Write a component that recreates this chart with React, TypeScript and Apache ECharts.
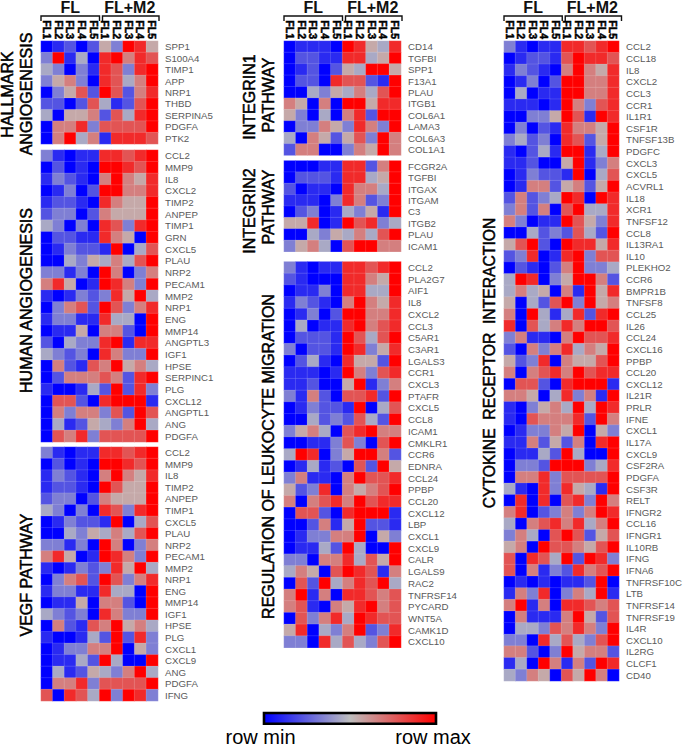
import React, { useEffect, useRef } from "react";
import * as echarts from "echarts";

const samples = ["FL1", "FL2", "FL3", "FL4", "FL5", "FL1", "FL2", "FL3", "FL4", "FL5"];

const hallmarkGenes = ["SPP1", "S100A4", "TIMP1", "APP", "NRP1", "THBD", "SERPINA5", "PDGFA", "PTK2"];
const hallmarkValues = [
  [0,1,2,0,2,5,3,9,8,5],[3,9,1,4,0,8,9,6,8,7],[4,3,0,3,1,8,7,3,8,9],[3,5,6,3,0,8,7,4,6,9],
  [0,3,5,7,2,9,7,2,6,8],[2,2,0,2,7,4,1,2,7,9],[4,0,5,5,6,2,7,4,8,9],[0,6,6,8,3,7,7,7,7,9],[0,6,9,4,6,1,8,8,8,7],
];

const humanGenes = ["CCL2","MMP9","IL8","CXCL2","TIMP2","ANPEP","TIMP1","GRN","CXCL5","PLAU","NRP2","PECAM1","MMP2","NRP1","ENG","MMP14","ANGPTL3","IGF1","HPSE","SERPINC1","PLG","CXCL12","ANGPTL1","ANG","PDGFA"];
const humanValues = [
  [3,1,0,1,1,8,8,7,8,9],[0,2,0,1,0,9,9,8,7,9],[1,3,2,1,0,6,9,6,5,8],[0,1,3,0,2,9,9,6,6,8],[1,2,2,1,0,8,6,5,5,9],
  [2,3,3,0,2,6,5,5,5,9],[4,3,0,3,0,8,7,3,8,9],[0,2,2,1,1,8,6,5,0,9],[0,1,3,2,2,1,9,0,4,7],[0,0,4,3,5,4,6,4,7,9],
  [3,3,1,3,0,9,6,0,3,6],[6,8,5,0,1,9,8,6,3,9],[1,0,1,3,2,3,8,5,9,4],[0,3,6,7,2,9,7,3,6,8],[1,3,3,1,1,8,4,4,0,9],
  [0,1,1,5,0,6,6,2,0,9],[2,0,4,3,3,8,9,1,8,8],[4,3,2,3,0,8,6,3,3,9],[0,6,2,1,7,6,9,5,6,4],[0,2,6,6,6,7,6,2,8,9],
  [1,0,0,1,4,2,9,2,8,3],[0,7,7,2,0,8,9,9,9,1],[0,6,3,6,6,3,7,2,9,7],[0,4,1,2,5,4,3,6,9,4],[0,7,6,8,3,7,7,7,7,9],
];

const vegfGenes = ["CCL2","MMP9","IL8","TIMP2","ANPEP","TIMP1","CXCL5","PLAU","NRP2","PECAM1","MMP2","NRP1","ENG","MMP14","IGF1","HPSE","PLG","CXCL1","CXCL9","ANG","PDGFA","IFNG"];
const vegfValues = [
  [3,1,0,1,1,8,8,7,8,9],[0,2,0,1,0,9,9,8,7,9],[1,3,2,1,0,6,9,6,5,8],[1,2,2,1,0,9,7,5,5,9],[2,3,3,0,2,6,5,5,5,9],
  [4,3,0,3,0,8,7,3,8,9],[0,1,3,2,2,1,9,0,4,7],[0,0,4,3,5,4,6,4,7,9],[3,3,1,3,0,9,6,0,3,6],[6,8,5,0,1,9,8,6,3,9],
  [1,0,1,3,2,3,8,5,9,4],[0,3,6,7,2,9,7,3,6,8],[1,3,3,1,1,8,4,4,0,9],[0,1,1,5,0,6,6,2,0,9],[4,3,2,3,0,8,6,3,3,9],
  [0,6,2,1,7,6,9,5,6,4],[1,0,0,1,4,2,9,2,8,3],[0,1,3,3,6,6,9,0,5,3],[0,1,1,4,2,9,4,0,0,9],[0,4,1,2,5,4,3,6,9,4],
  [0,6,6,8,3,7,7,7,7,9],[7,0,8,7,4,9,3,9,8,3],
];

const integrin1Genes = ["CD14","TGFBI","SPP1","F13A1","PLAU","ITGB1","COL6A1","LAMA3","COL6A3","COL1A1"];
const integrin1Values = [
  [0,1,1,1,0,9,8,5,4,8],[0,2,2,1,1,8,8,4,5,9],[0,1,2,0,2,5,4,9,9,5],[0,2,2,0,8,7,7,2,1,9],[0,0,4,3,5,4,6,4,7,9],
  [6,5,0,6,0,9,9,5,8,8],[5,3,0,4,0,6,8,2,9,9],[0,3,3,6,5,3,8,6,3,9],[4,0,6,5,2,5,7,3,9,6],[2,6,6,0,0,3,6,5,9,6],
];

const integrin2Genes = ["FCGR2A","TGFBI","ITGAX","ITGAM","C3","ITGB2","PLAU","ICAM1"];
const integrin2Values = [
  [0,0,0,1,1,8,8,2,6,9],[0,2,2,2,1,8,8,4,5,9],[2,0,1,1,0,8,6,6,4,9],[1,1,1,0,3,8,6,2,3,9],
  [0,2,3,0,1,4,3,5,1,9],[5,5,8,0,1,9,7,8,3,4],[0,0,4,3,5,4,6,4,7,9],[3,5,6,4,0,7,9,9,6,6],
];

const migrationGenes = ["CCL2","PLA2G7","AIF1","IL8","CXCL2","CCL3","C5AR1","C3AR1","LGALS3","CCR1","CXCL3","PTAFR","CXCL5","CCL8","ICAM1","CMKLR1","CCR6","EDNRA","CCL24","PPBP","CCL20","CXCL12","LBP","CXCL1","CXCL9","CALR","LGALS9","RAC2","TNFRSF14","PYCARD","WNT5A","CAMK1D","CXCL10"];
const migrationValues = [
  [3,1,0,1,1,8,8,7,8,9],[2,1,0,0,0,8,8,6,5,9],[0,1,1,3,0,8,8,4,4,9],[1,3,2,1,0,6,9,6,5,8],[0,1,3,0,2,9,9,6,6,8],
  [0,4,0,1,1,8,9,6,7,8],[0,2,2,2,1,9,7,4,7,9],[3,0,2,2,1,9,8,3,5,8],[0,2,4,1,0,8,5,5,2,9],[1,1,1,0,1,9,6,3,7,8],
  [1,1,2,0,0,5,9,1,3,6],[3,1,6,2,0,7,7,8,2,9],[0,1,3,2,2,1,9,0,4,7],[0,0,4,2,3,2,7,4,2,9],[3,5,6,4,0,7,8,9,6,6],
  [0,0,1,1,3,7,3,0,7,9],[4,9,8,0,3,5,9,9,6,2],[0,1,4,1,2,0,7,2,9,5],[3,6,1,1,0,6,9,7,7,8],[5,2,3,8,0,6,5,6,7,9],
  [6,0,6,7,8,6,9,7,8,8],[0,7,7,2,0,8,9,9,9,1],[0,0,2,6,1,5,9,2,2,1],[0,1,3,3,6,6,9,0,5,3],[0,1,1,4,2,9,4,0,0,9],
  [3,3,0,6,6,8,4,7,5,9],[4,6,5,0,7,9,8,7,1,6],[0,7,2,9,4,6,8,7,9,4],[6,9,1,6,0,8,8,7,6,7],[6,7,1,0,6,5,8,9,6,7],
  [0,7,3,6,8,4,9,8,7,7],[5,8,0,4,3,6,9,2,3,8],[3,3,0,8,4,7,4,3,7,9],
];

const cytokineGenes = ["CCL2","CCL18","IL8","CXCL2","CCL3","CCR1","IL1R1","CSF1R","TNFSF13B","PDGFC","CXCL3","CXCL5","ACVRL1","IL18","XCR1","TNFSF12","CCL8","IL13RA1","IL10","PLEKHO2","CCR6","BMPR1B","TNFSF8","CCL25","IL26","CCL24","CXCL16","PPBP","CCL20","CXCL12","IL21R","PRLR","IFNE","CXCL1","IL17A","CXCL9","CSF2RA","PDGFA","CSF3R","RELT","IFNGR2","CCL16","IFNGR1","IL10RB","IFNG","IFNA6","TNFRSF10C","LTB","TNFRSF14","TNFRSF19","IL4R","CXCL10","IL2RG","CLCF1","CD40"];
const cytokineValues = [
  [3,1,0,1,1,8,8,7,8,9],[0,1,2,2,1,7,9,8,8,7],[1,3,2,1,0,6,9,6,5,8],[0,1,3,0,2,9,9,6,6,8],[0,4,0,1,1,9,9,6,6,8],
  [1,1,1,0,1,9,6,3,7,8],[0,0,3,3,5,9,7,1,9,8],[0,3,0,2,1,8,6,6,5,9],[3,4,2,3,0,8,7,2,5,9],[1,0,2,4,1,9,9,1,4,9],
  [1,1,2,0,0,5,9,1,3,6],[0,1,3,2,2,1,9,0,4,7],[0,1,6,6,2,5,6,2,5,9],[2,6,2,3,4,9,8,0,9,8],[3,6,2,6,0,7,9,4,4,8],
  [6,3,0,1,1,9,7,5,3,8],[0,0,4,2,3,2,7,4,2,9],[5,7,9,2,0,9,8,8,5,8],[2,3,8,0,1,8,9,3,7,7],[0,2,1,0,2,6,9,3,3,4],
  [4,9,8,0,3,5,9,9,6,2],[4,6,4,5,0,6,1,9,5,8],[5,0,4,2,7,9,3,9,5,6],[6,0,9,4,1,4,8,2,8,9],[8,0,7,4,6,8,6,9,9,7],
  [3,6,1,1,0,6,9,7,7,8],[2,0,6,3,6,8,4,6,5,9],[5,2,3,8,0,6,5,5,7,9],[6,0,6,7,8,6,9,7,8,8],[0,7,7,2,0,8,9,9,9,1],
  [6,6,5,0,4,8,3,6,1,9],[1,0,3,5,6,4,9,4,9,8],[1,0,7,6,6,6,8,2,9,6],[0,1,3,3,6,5,9,0,5,3],[1,1,6,2,5,2,6,0,8,9],
  [0,1,1,4,2,9,4,0,0,9],[0,3,3,2,9,9,9,3,4,8],[0,6,6,8,3,7,7,7,7,9],[4,1,0,8,3,8,5,4,1,9],[0,8,0,8,0,7,8,3,9,6],
  [6,8,0,2,3,6,3,6,9,8],[4,0,6,7,8,6,8,4,6,9],[3,6,4,0,7,9,7,2,5,7],[5,6,0,9,7,7,6,5,7,9],[7,0,8,7,4,9,2,9,8,3],
  [7,0,6,1,3,2,8,6,7,9],[0,1,0,1,0,1,1,2,9,0],[1,6,3,8,0,3,6,4,9,1],[6,9,1,6,0,8,8,7,6,7],[0,6,1,1,1,6,9,5,2,7],
  [0,4,4,3,7,6,8,6,3,9],[3,3,0,8,4,7,4,3,7,9],[6,6,2,0,3,9,5,6,6,2],[1,4,0,9,6,1,6,2,9,8],[4,3,6,5,0,7,5,9,6,0],
];

const FONT = "'Liberation Sans', Arial, sans-serif";
const ROW_COLORS = ["#0000ff", "#bebebe", "#ff0000"];

const panels = [
  { genes: hallmarkGenes, values: hallmarkValues, x0: 41, x1: 158, y0: 41, y1: 144, header: true },
  { genes: humanGenes, values: humanValues, x0: 41, x1: 158, y0: 150, y1: 442, header: false },
  { genes: vegfGenes, values: vegfValues, x0: 41, x1: 158, y0: 447, y1: 701, header: false },
  { genes: integrin1Genes, values: integrin1Values, x0: 284, x1: 401, y0: 41, y1: 155.3, header: true },
  { genes: integrin2Genes, values: integrin2Values, x0: 284, x1: 401, y0: 160.7, y1: 251.7, header: false },
  { genes: migrationGenes, values: migrationValues, x0: 284, x1: 401, y0: 261.7, y1: 647.7, header: false },
  { genes: cytokineGenes, values: cytokineValues, x0: 504, x1: 620.5, y0: 41, y1: 681, header: true },
];

const sideTitles = [
  { text: "HALLMARK", x: 7.5, y: 94.5, size: 16 },
  { text: "ANGIOGENESIS", x: 26.5, y: 94, size: 16 },
  { text: "HUMAN ANGIOGENESIS", x: 26.5, y: 300.5, size: 16 },
  { text: "VEGF PATHWAY", x: 26.5, y: 575, size: 16 },
  { text: "INTEGRIN1", x: 249.5, y: 97, size: 16 },
  { text: "PATHWAY", x: 268.5, y: 95, size: 16 },
  { text: "INTEGRIN2", x: 249.5, y: 211, size: 16 },
  { text: "PATHWAY", x: 268.5, y: 207, size: 16 },
  { text: "REGULATION OF LEUKOCYTE MIGRATION", x: 268, y: 456.5, size: 16 },
  { text: "CYTOKINE  RECEPTOR  INTERACTION", x: 489, y: 363, size: 15.7 },
];

function bracket(x0: number, x1: number) {
  return {
    type: "polyline",
    shape: { points: [[x0, 21], [x0, 16], [x1, 16], [x1, 21]] },
    style: { stroke: "#111", lineWidth: 1.4, fill: "none" },
  };
}

function buildOption() {
  const grid: any[] = [], xAxis: any[] = [], yAxis: any[] = [], series: any[] = [];
  const graphic: any[] = [];
  panels.forEach((p, i) => {
    grid.push({ left: p.x0, top: p.y0, width: p.x1 - p.x0, height: p.y1 - p.y0 });
    xAxis.push({
      type: "category", gridIndex: i, data: samples, position: "top",
      axisLine: { show: false }, axisTick: { show: false }, splitLine: { show: false },
      axisLabel: p.header
        ? { show: true, rotate: 90, interval: 0, margin: 2, fontFamily: FONT, fontSize: 10.5, fontWeight: "bold", color: "#000", textBorderColor: "#000", textBorderWidth: 0.5 }
        : { show: false },
    });
    yAxis.push({
      type: "category", gridIndex: i, data: p.genes, inverse: true, position: "right",
      axisLine: { show: false }, axisTick: { show: false }, splitLine: { show: false },
      axisLabel: { show: true, interval: 0, margin: 7, fontFamily: FONT, fontSize: 9.7, color: "#5a5a5a" },
    });
    const data: number[][] = [];
    p.values.forEach((row, r) => row.forEach((v, c) => data.push([c, r, v])));
    series.push({
      type: "heatmap", xAxisIndex: i, yAxisIndex: i, data, silent: true,
      itemStyle: { borderColor: "rgba(255,255,255,0.22)", borderWidth: 0.6 },
    });
    if (p.header) {
      const mid = (p.x0 + p.x1) / 2;
      graphic.push(bracket(p.x0, mid));
      graphic.push(bracket(mid + 3, p.x1 + 1));
      graphic.push({ type: "text", x: (p.x0 + mid) / 2, y: 7, style: { text: "FL", align: "center", verticalAlign: "middle", font: `bold 16px ${FONT}`, fill: "#111" } });
      graphic.push({ type: "text", x: (mid + p.x1) / 2 + 1, y: 7, style: { text: "FL+M2", align: "center", verticalAlign: "middle", font: `bold 16px ${FONT}`, fill: "#111" } });
    }
  });
  sideTitles.forEach((t) => {
    graphic.push({
      type: "text", x: t.x, y: t.y, rotation: Math.PI / 2,
      style: { text: t.text, align: "center", verticalAlign: "middle", font: `${t.size}px ${FONT}`, fill: "#000", stroke: "#000", lineWidth: 0.5 },
    });
  });
  graphic.push({
    type: "rect", shape: { x: 264, y: 713, width: 172, height: 10.8 },
    style: {
      fill: new echarts.graphic.LinearGradient(0, 0, 1, 0, [
        { offset: 0, color: ROW_COLORS[0] },
        { offset: 0.5, color: ROW_COLORS[1] },
        { offset: 1, color: ROW_COLORS[2] },
      ]),
      stroke: "#000", lineWidth: 2.6,
    },
  });
  graphic.push({ type: "text", x: 260.5, y: 736.5, style: { text: "row min", align: "center", verticalAlign: "middle", font: `20px ${FONT}`, fill: "#000" } });
  graphic.push({ type: "text", x: 433, y: 736.5, style: { text: "row max", align: "center", verticalAlign: "middle", font: `20px ${FONT}`, fill: "#000" } });
  return {
    animation: false,
    backgroundColor: "#fff",
    grid, xAxis, yAxis, series,
    visualMap: { show: false, min: 0, max: 9, seriesIndex: panels.map((_, i) => i), inRange: { color: ROW_COLORS } },
    graphic,
  };
}

export default function App() {
  const ref = useRef<HTMLDivElement>(null);
  useEffect(() => {
    const chart = echarts.init(ref.current!, undefined, { renderer: "svg" });
    chart.setOption(buildOption() as any);
    return () => chart.dispose();
  }, []);
  return <div ref={ref} style={{ position: "fixed", left: 0, top: 0, width: 685, height: 747 }} />;
}
